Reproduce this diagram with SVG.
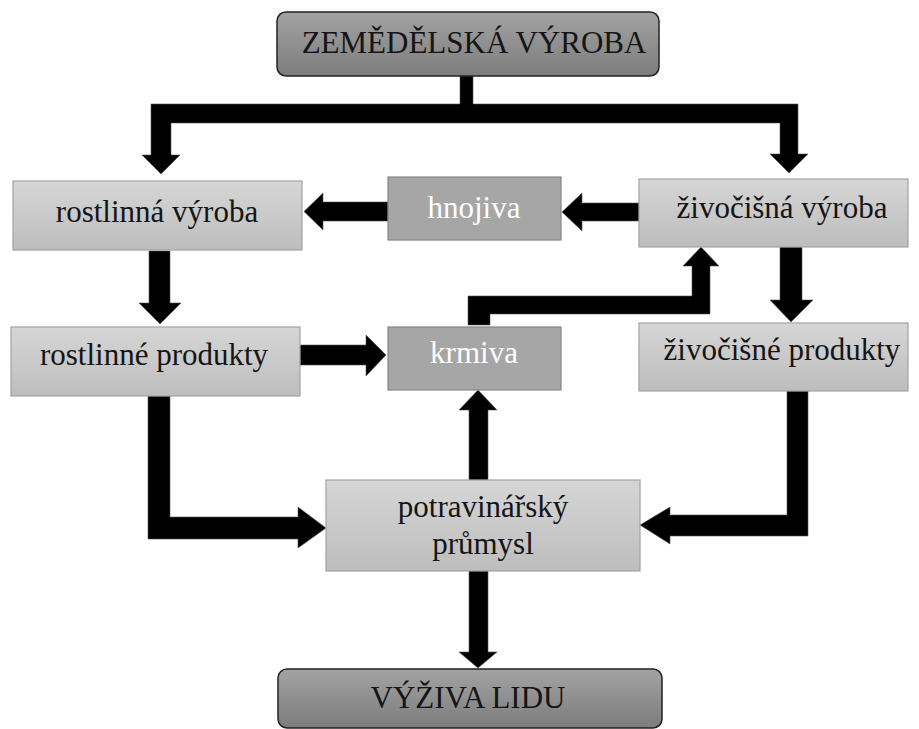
<svg xmlns="http://www.w3.org/2000/svg" width="919" height="729" viewBox="0 0 919 729">
<defs>
<linearGradient id="gLight" x1="0" y1="0" x2="0" y2="1">
<stop offset="0" stop-color="#d6d6d6"/>
<stop offset="1" stop-color="#bdbdbd"/>
</linearGradient>
<linearGradient id="gDark" x1="0" y1="0" x2="0" y2="1">
<stop offset="0" stop-color="#a3a3a3"/>
<stop offset="1" stop-color="#7c7c7c"/>
</linearGradient>
</defs>
<style>
.light{fill:url(#gLight);stroke:#a2a2a2;stroke-width:1.2}
.mid{fill:#a6a6a6;stroke:#858585;stroke-width:1.2}
.head{fill:url(#gDark);stroke:#222;stroke-width:1.5}
.dk{fill:#151515}
.wt{fill:#ffffff}
.conn path{fill:#000;stroke:#555;stroke-width:0.6}
</style>
<rect width="919" height="729" fill="#ffffff"/>
<g class="conn" id="connectors">
<path d="M460,76 L473,76 L473,104 L798,104 L798,154 L808,154 L789,173 L770,154 L780,154 L780,123 L171,123 L171,155 L180,155 L161,174 L142,155 L151,155 L151,104 L460,104 Z"/>
<path d="M388,202 L323,202 L323,193 L304,211.5 L323,230 L323,221 L388,221 Z"/>
<path d="M639,203 L582,203 L582,193 L562,212 L582,231 L582,221 L639,221 Z"/>
<path d="M149,251 L170,251 L170,303 L181,303 L160,324 L139,303 L149,303 Z"/>
<path d="M300,345 L366,345 L366,335 L386,355 L366,376 L366,365 L300,365 Z"/>
<path d="M780,247 L802,247 L802,300 L813,300 L791,322 L770,300 L780,300 Z"/>
<path d="M468,325 L468,296 L692,296 L692,266 L683,266 L701,247 L719,266 L710,266 L710,314 L490,314 L490,325 Z"/>
<path d="M469,480 L469,410 L459,410 L478,390 L497,410 L488,410 L488,480 Z"/>
<path d="M469,570 L488,570 L488,652 L497,652 L478,668 L459,652 L469,652 Z"/>
<path d="M148,396 L170,396 L170,517 L298,517 L298,507 L326,528 L298,548 L298,539 L148,539 Z"/>
<path d="M787,391 L808,391 L808,536 L670,536 L670,544 L640,525 L670,507 L670,515 L787,515 Z"/>
</g>
<g font-family="Liberation Serif, Times New Roman, serif" font-size="31" text-anchor="middle">
<g id="zemedelska-vyroba">
<rect class="head" x="277" y="12" width="382" height="64" rx="9"/>
<text class="dk" x="474" y="53">ZEMĚDĚLSKÁ VÝROBA</text>
</g>
<g id="rostlinna-vyroba">
<rect class="light" x="13" y="181" width="289" height="69"/>
<text class="dk" x="157" y="222">rostlinná výroba</text>
</g>
<g id="hnojiva">
<rect class="mid" x="388" y="177" width="173" height="63"/>
<text class="wt" x="474" y="218">hnojiva</text>
</g>
<g id="zivocisna-vyroba">
<rect class="light" x="639" y="179" width="269" height="68"/>
<text class="dk" x="782" y="218">živočišná výroba</text>
</g>
<g id="rostlinne-produkty">
<rect class="light" x="11" y="327" width="289" height="69"/>
<text class="dk" x="154" y="365">rostlinné produkty</text>
</g>
<g id="krmiva">
<rect class="mid" x="388" y="327" width="173" height="63"/>
<text class="wt" x="474" y="363">krmiva</text>
</g>
<g id="zivocisne-produkty">
<rect class="light" x="639" y="323" width="269" height="68"/>
<text class="dk" x="782" y="360">živočišné produkty</text>
</g>
<g id="potravinarsky-prumysl">
<rect class="light" x="326" y="480" width="314" height="91"/>
<text class="dk" x="483" y="517">potravinářský</text>
<text class="dk" x="483" y="554">průmysl</text>
</g>
<g id="vyziva-lidu">
<rect class="head" x="278" y="669" width="384" height="59" rx="9"/>
<text class="dk" x="468" y="708">VÝŽIVA LIDU</text>
</g>
</g>
</svg>
